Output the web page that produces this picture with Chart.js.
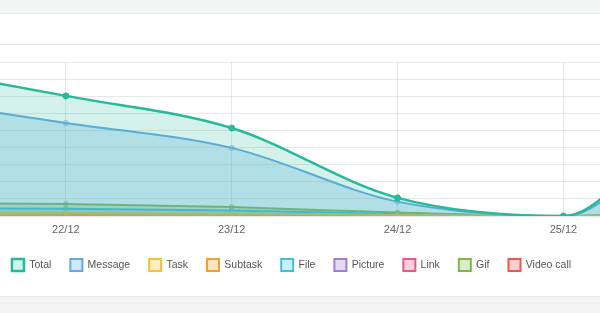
<!DOCTYPE html>
<html>
<head>
<meta charset="utf-8">
<script src="https://cdn.jsdelivr.net/npm/chart.js@4/dist/chart.umd.min.js"></script>
<style>
  html, body { margin: 0; padding: 0; background: #ffffff; }
  body { width: 600px; height: 313px; overflow: hidden; position: relative; font-family: "Liberation Sans", Arial, sans-serif; }
  #topband { position: absolute; left: 0; top: 0; width: 600px; height: 13px; background: #f3f4f4; border-bottom: 1px solid #ececec; }
  #divider { position: absolute; left: 0; top: 44px; width: 600px; height: 1px; background: #e6e6e6; }
  #bottomband { position: absolute; left: 0; top: 296px; width: 600px; height: 17px; background: #f3f3f3; border-top: 1px solid #e9e9e9; }
  #wrap { position: absolute; left: -147px; top: 52px; width: 897px; height: 229px; }
</style>
</head>
<body>
<div id="topband"></div>
<div id="divider"></div>
<div id="wrap"><canvas id="c" width="897" height="229"></canvas></div>
<div id="bottomband"></div>
<script>
const dates = ['21/12', '22/12', '23/12', '24/12', '25/12', '26/12'];
const seriesNames = ['Total', 'Message', 'Task', 'Subtask', 'File', 'Picture', 'Link', 'Gif', 'Video call'];
const totalValues    = [44, 35.1, 25.7, 5.3, 0, 55];
const messageValues  = [34.5, 27.2, 19.9, 4.2, 0, 45];
const taskValues     = [0.9, 0.9, 0.7, 0.3, 0, 1.5];
const subtaskValues  = [0.3, 0.3, 0.2, 0.1, 0, 0.5];
const fileValues     = [2.3, 2.1, 1.6, 0.6, 0, 2];
const pictureValues  = [0, 0, 0, 0, 0, 0];
const linkValues     = [0, 0, 0, 0, 0, 0];
const gifValues      = [3.8, 3.5, 2.6, 1.0, 0, 3];
const videoCallValues = [0, 0, 0, 0, 0, 0];
const yTicksMax = 45;
const yTicksStep = 5;

const colors = ['38,185,154', '100,170,225', '241,194,50', '240,160,48', '63,193,213', '156,127,208', '232,88,138', '130,184,75', '232,90,80'];
const valuesList = [totalValues, messageValues, taskValues, subtaskValues, fileValues, pictureValues, linkValues, gifValues, videoCallValues];

const datasets = seriesNames.map((name, i) => {
  const c = colors[i];
  const isTotal = i === 0;
  return {
    label: name,
    data: valuesList[i],
    borderColor: 'rgb(' + c + ')',
    backgroundColor: 'rgba(' + c + ',' + (isTotal ? 0.2 : 0.28) + ')',
    borderWidth: isTotal ? 2.5 : 2,
    fill: 'origin',
    cubicInterpolationMode: 'monotone',
    pointRadius: isTotal ? 3 : 2.5,
    pointBorderWidth: 1,
    pointBackgroundColor: isTotal ? 'rgb(' + c + ')' : 'rgba(' + c + ',0.3)',
    pointBorderColor: isTotal ? 'rgb(' + c + ')' : 'rgba(' + c + ',0.6)'
  };
});

new Chart(document.getElementById('c'), {
  type: 'line',
  data: { labels: dates, datasets: datasets },
  options: {
    responsive: false,
    animation: false,
    layout: { padding: { top: 10, right: 20, left: 0, bottom: 0 } },
    plugins: {
      legend: {
        position: 'bottom',
        labels: {
          boxWidth: 12,
          boxHeight: 12,
          padding: 19,
          color: '#555',
          font: { family: '"Liberation Sans", Arial, sans-serif', size: 10.5 }
        }
      },
      tooltip: { enabled: false }
    },
    scales: {
      x: {
        grid: { drawTicks: false, color: 'rgba(0,0,0,0.09)' },
        border: { display: false },
        ticks: { padding: 7, color: '#666', font: { family: '"Liberation Sans", Arial, sans-serif', size: 11 }, maxRotation: 0 },
        afterFit: (s) => { s.height = 24; }
      },
      y: {
        min: 0,
        max: yTicksMax,
        grid: { color: 'rgba(0,0,0,0.09)' },
        border: { display: false },
        ticks: { stepSize: yTicksStep, color: '#666', font: { size: 11 } },
        afterFit: (s) => { s.width = 47; }
      }
    }
  }
});
</script>
</body>
</html>
